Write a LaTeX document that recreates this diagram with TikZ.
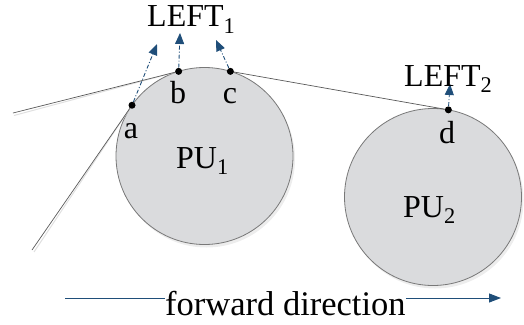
\documentclass[tikz,border=0pt]{standalone}
\usepackage{fontspec}
\setmainfont{Liberation Serif}
\usetikzlibrary{arrows.meta}
\definecolor{beltblue}{RGB}{31,78,121}
\definecolor{pulleyfill}{RGB}{218,219,221}
\definecolor{pulleyedge}{RGB}{120,120,120}
\begin{document}
\begin{tikzpicture}[x=1pt,y=-1pt,
  pulley/.style={circle,minimum size=177pt,inner sep=0pt,outer sep=0pt,
    fill=pulleyfill,draw=pulleyedge,line width=0.8pt},
  pshadow/.style={circle,minimum size=177pt,inner sep=0pt,fill=black!7},
  belt/.style={draw=black!65,line width=0.7pt},
  beltshadow/.style={draw=black!12,line width=1pt},
  dot/.style={circle,fill=black,inner sep=0pt,minimum size=7pt},
  lbl/.style={font=\fontsize{32}{36}\selectfont,inner sep=0pt},
  leftarrow/.style={draw=beltblue,line width=0.9pt,
    dash pattern=on 4pt off 2pt on 1pt off 2pt,
    -{Triangle[length=11pt,width=9pt]}},
  dirline/.style={draw=beltblue,line width=1pt}]
\useasboundingbox (0,0) rectangle (524,324);

% soft shadows under the pulleys
\node[pshadow] at (206.5,159) {};
\node[pshadow] at (435,200) {};

% pulleys
\node[pulley] (pu1) at (204.5,156) {};
\node[pulley] (pu2) at (433,197) {};

% contact points
\node[dot] (a) at (pu1.145.8) {};
\node[dot] (b) at (pu1.107.5) {};
\node[dot] (c) at (pu1.73.1) {};
\node[dot] (d) at (pu2.80.8) {};

% free belt ends
\coordinate (e1) at (13,113);
\coordinate (e2) at (32,250);

% belt shadows
\draw[beltshadow] ([shift={(1,2.5)}]e1) -- ([shift={(1,2.5)}]b);
\draw[beltshadow] ([shift={(2,2)}]e2) -- ([shift={(2,2)}]a);

% belt segments
\draw[belt] (e1) -- (b);
\draw[belt] (e2) -- (a);
\draw[belt] (c) -- (d);

% lift-off directions
\coordinate (ta) at (157,44);
\coordinate (tb) at (180,33);
\coordinate (tc) at (216,40);
\coordinate (td) at (450,84);
\draw[leftarrow] (a) -- (ta);
\draw[leftarrow] (b) -- (tb);
\draw[leftarrow] (c) -- (tc);
\draw[leftarrow] (d) -- (td);

% point labels
\node[lbl,anchor=base] (la) at (131,138) {a};
\node[lbl,anchor=base] (lb) at (178,103) {b};
\node[lbl,anchor=base] (lc) at (230,103) {c};
\node[lbl,anchor=base] (ld) at (447,143) {d};

% pulley labels
\node[lbl,anchor=base west] (n1) at (176,168) {PU\textsubscript{1}};
\node[lbl,anchor=base west] (n2) at (403,217) {PU\textsubscript{2}};

% LEFT labels
\node[lbl,anchor=base west] (left1) at (147,27) {LEFT\textsubscript{1}};
\node[lbl,anchor=base west] (left2) at (404,86) {LEFT\textsubscript{2}};

% forward direction
\node[font=\fontsize{34.5}{40}\selectfont,inner sep=0pt,anchor=base west]
  (fwd) at (165,315) {forward direction};
\coordinate (fs) at (65,298);
\coordinate (fe) at (501,298);
\draw[dirline] (fs) -- (fs -| fwd.west);
\draw[dirline,-{Triangle[length=12pt,width=9pt]}] (fe -| fwd.east) -- (fe);
\end{tikzpicture}
\end{document}
